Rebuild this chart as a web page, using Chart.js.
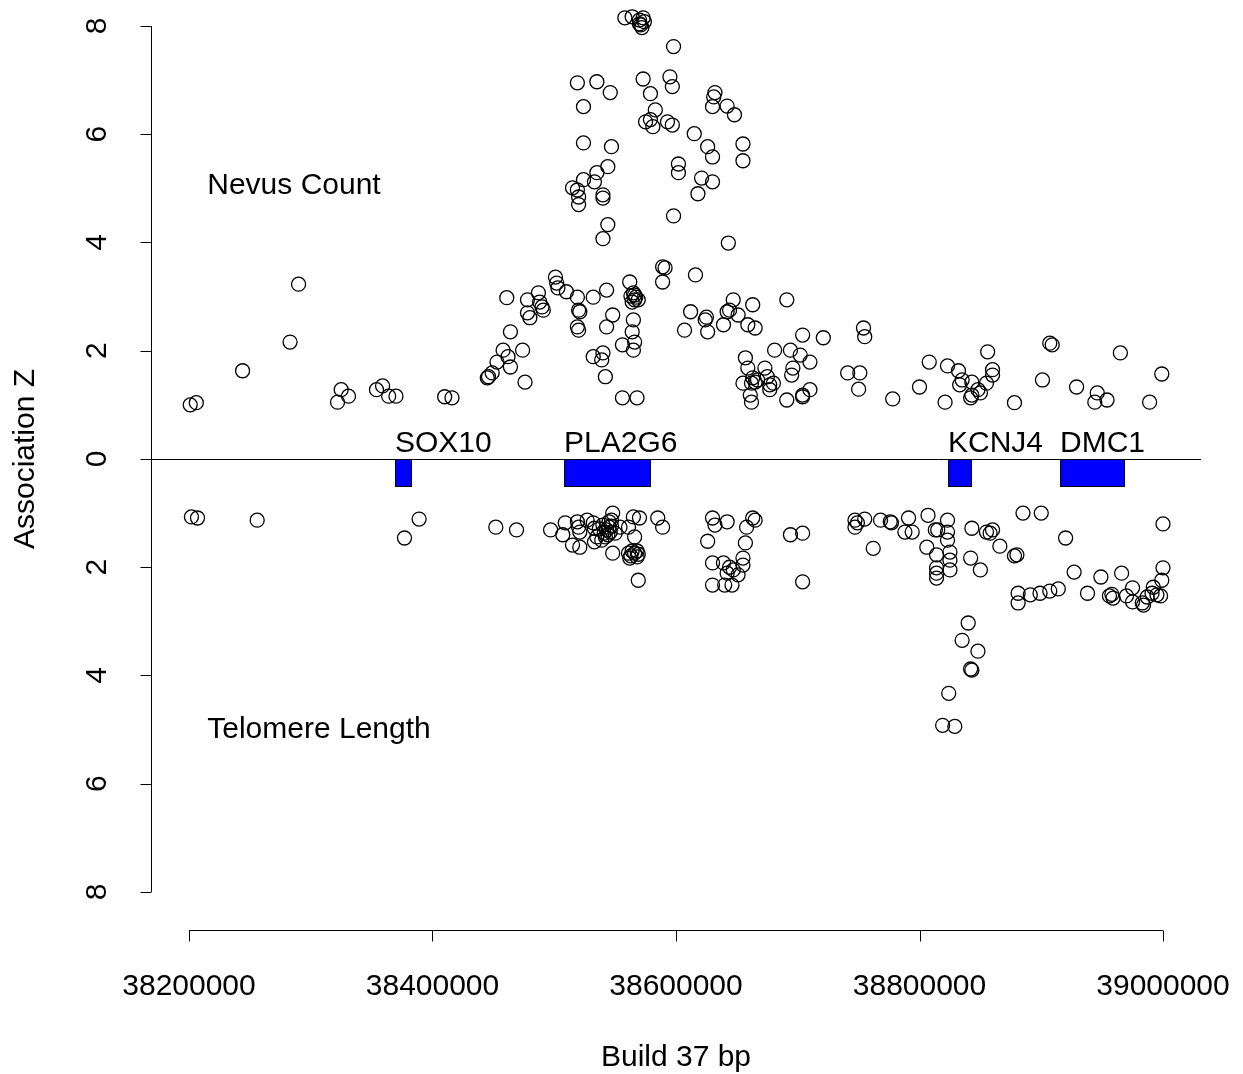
<!DOCTYPE html>
<html>
<head>
<meta charset="utf-8">
<title>Association Z - Nevus Count / Telomere Length</title>
<script src="https://cdn.jsdelivr.net/npm/chart.js@4.4.0/dist/chart.umd.min.js"></script>
<style>
  body { margin: 0; background: #fff; }
  canvas { display: block; }
</style>
</head>
<body>
<canvas id="assocChart" width="1243" height="1074"></canvas>
<script>
// SNP positions (build 37 bp) and association Z for nevus count (plotted above 0)
const nevusPos = [
  38201000, 38206000, 38244000, 38283000, 38290000, 38322000, 38325000, 38331000, 38354000, 38359000,
  38364000, 38370000, 38410000, 38416000,
  38461000, 38464000, 38458000, 38462000, 38453000, 38464000, 38449000, 38446000, 38445000, 38474000,
  38476000, 38478000, 38478000, 38480000, 38487000, 38488000, 38490000, 38491000, 38501000, 38502000,
  38503000, 38510000, 38519000, 38520000, 38521000, 38519000, 38520000, 38532000, 38543000, 38543000,
  38548000, 38540000, 38532000, 38539000, 38542000, 38556000, 38568000, 38562000, 38563000, 38566000,
  38567000, 38564000, 38566000, 38569000, 38565000, 38565000, 38564000, 38566000, 38565000, 38556000,
  38589000, 38591000, 38589000, 38616000, 38612000, 38607000, 38625000, 38626000, 38624000, 38639000,
  38642000, 38644000, 38647000, 38651000, 38659000, 38665000, 38663000, 38691000, 38704000, 38681000,
  38694000, 38702000, 38710000, 38696000, 38695000, 38657000, 38659000, 38663000, 38662000, 38665000,
  38655000, 38673000, 38675000, 38680000, 38677000, 38662000, 38661000, 38691000, 38704000, 38710000,
  38704000, 38667000, 38677000,
  38721000, 38754000, 38755000, 38741000, 38751000, 38750000, 38778000, 38800000, 38808000, 38823000,
  38832000, 38835000, 38833000, 38843000, 38843000, 38842000, 38848000, 38850000, 38855000, 38860000,
  38860000, 38856000, 38821000, 38878000, 38901000, 38907000, 38909000, 38929000, 38946000, 38944000,
  38954000, 38965000, 38989000, 38999000,
  38558000, 38564000, 38570000, 38573000, 38571000, 38574000, 38572000, 38570000, 38519000, 38535000,
  38546000, 38524000, 38524000, 38547000, 38544000, 38535000, 38533000, 38524000, 38515000, 38519000,
  38520000, 38520000, 38540000, 38540000, 38544000, 38540000, 38598000, 38573000, 38579000, 38595000,
  38597000, 38583000, 38575000, 38579000, 38581000, 38593000, 38597000, 38632000, 38630000, 38642000,
  38648000, 38615000, 38626000, 38630000, 38655000, 38655000, 38602000, 38602000, 38621000, 38630000,
  38618000, 38598000, 38643000, 38631000
];
const nevusZ = [
  1.00, 1.04, 1.63, 2.16, 3.23, 1.05, 1.28, 1.16, 1.28, 1.35,
  1.16, 1.16, 1.15, 1.13,
  2.98, 2.35, 2.01, 1.89, 1.79, 1.70, 1.59, 1.52, 1.50, 2.01,
  1.42, 2.94, 2.70, 2.61, 3.07, 2.90, 2.81, 2.75, 3.36, 3.25,
  3.16, 3.09, 2.99, 2.75, 2.72, 2.44, 2.38, 2.99, 3.12, 2.44,
  2.66, 1.96, 1.89, 1.83, 1.52, 1.13, 1.13, 3.27, 3.01, 2.94,
  2.99, 2.90, 3.03, 2.94, 3.07, 2.57, 2.35, 2.16, 2.01, 2.11,
  3.55, 3.53, 3.27, 3.40, 2.72, 2.38, 2.62, 2.35, 2.57, 2.48,
  2.72, 2.75, 2.94, 2.66, 2.48, 2.42, 2.85, 2.94, 2.29, 2.01,
  2.01, 1.92, 1.79, 1.68, 1.55, 1.87, 1.68, 1.50, 1.40, 1.42,
  1.40, 1.68, 1.52, 1.40, 1.28, 1.05, 1.18, 1.09, 1.15, 1.28,
  1.18, 1.46, 1.37,
  2.24, 2.42, 2.26, 1.59, 1.59, 1.29, 1.11, 1.33, 1.79, 1.72,
  1.63, 1.46, 1.37, 1.42, 1.18, 1.13, 1.28, 1.22, 1.40, 1.55,
  1.65, 1.98, 1.05, 1.04, 1.46, 2.14, 2.11, 1.33, 1.22, 1.05,
  1.09, 1.96, 1.05, 1.57,
  8.15, 8.17, 8.11, 8.15, 8.02, 8.08, 7.97, 8.04, 6.95, 6.97,
  6.77, 6.51, 5.84, 5.77, 5.40, 5.29, 5.12, 5.16, 5.01, 4.97,
  4.84, 4.70, 4.88, 4.82, 4.33, 4.07, 7.62, 7.02, 6.75, 7.06,
  6.88, 6.45, 6.23, 6.27, 6.14, 6.23, 6.17, 6.77, 6.51, 6.52,
  6.36, 6.01, 5.77, 5.58, 5.82, 5.51, 5.45, 5.29, 5.19, 5.12,
  4.90, 4.49, 3.99, 6.69
];

// SNP positions and association Z for telomere length (plotted below 0)
const telomerePos = [
  38202000, 38207000, 38256000, 38389000, 38377000, 38452000, 38469000, 38497000, 38509000, 38507000,
  38515000, 38521000, 38519000, 38520000, 38521000, 38527000, 38532000, 38533000, 38533000, 38539000,
  38535000, 38540000, 38543000, 38545000, 38546000, 38541000, 38544000, 38547000, 38537000, 38545000,
  38542000, 38548000, 38547000, 38550000, 38548000, 38554000, 38561000, 38565000, 38570000, 38566000,
  38561000, 38563000, 38566000, 38568000, 38569000, 38564000, 38562000, 38568000, 38569000, 38585000,
  38589000,
  38630000, 38632000, 38642000, 38663000, 38665000, 38658000, 38626000, 38657000, 38630000, 38639000,
  38655000, 38655000, 38644000, 38647000, 38642000, 38651000, 38630000, 38640000, 38646000, 38694000,
  38704000, 38704000,
  38747000, 38749000, 38747000, 38755000, 38768000, 38776000, 38777000, 38791000, 38788000, 38794000,
  38762000, 38807000, 38813000, 38815000, 38823000, 38823000, 38806000, 38814000, 38823000, 38825000,
  38825000, 38814000, 38814000, 38814000, 38825000, 38843000, 38855000, 38858000, 38860000, 38866000,
  38842000, 38850000, 38878000, 38880000, 38885000, 38900000, 38881000, 38881000, 38840000, 38835000,
  38848000, 38842000, 38843000, 38824000, 38819000, 38829000,
  38920000, 38927000, 38949000, 38966000, 39000000, 39000000, 38999000, 38891000, 38899000, 38907000,
  38914000, 38938000, 38956000, 38959000, 38958000, 38970000, 38975000, 38975000, 38983000, 38987000,
  38992000, 38991000, 38995000, 38998000, 38984000
];
const telomereZ = [
  1.07, 1.09, 1.13, 1.11, 1.46, 1.26, 1.31, 1.31, 1.18, 1.40,
  1.59, 1.63, 1.16, 1.26, 1.35, 1.13, 1.18, 1.28, 1.53, 1.50,
  1.44, 1.22, 1.31, 1.26, 1.35, 1.37, 1.40, 1.24, 1.29, 1.16,
  1.44, 1.00, 1.13, 1.37, 1.74, 1.26, 1.26, 1.07, 1.09, 1.44,
  1.74, 1.79, 1.74, 1.81, 1.76, 1.70, 1.83, 1.70, 2.24, 1.09,
  1.26,
  1.09, 1.22, 1.16, 1.09, 1.13, 1.26, 1.52, 1.55, 1.92, 1.92,
  1.83, 1.96, 2.00, 2.05, 2.11, 2.14, 2.33, 2.33, 2.33, 1.40,
  1.37, 2.27,
  1.13, 1.18, 1.26, 1.11, 1.13, 1.16, 1.18, 1.09, 1.35, 1.35,
  1.65, 1.04, 1.31, 1.31, 1.13, 1.35, 1.63, 1.77, 1.50, 1.72,
  1.87, 2.01, 2.11, 2.20, 2.05, 1.28, 1.35, 1.37, 1.31, 1.61,
  1.83, 2.05, 1.79, 1.77, 1.00, 1.00, 2.48, 2.66, 3.03, 3.35,
  3.55, 3.88, 3.90, 4.33, 4.92, 4.94,
  1.46, 2.09, 2.18, 2.11, 1.20, 2.01, 2.24, 2.51, 2.48, 2.44,
  2.40, 2.48, 2.53, 2.57, 2.50, 2.53, 2.38, 2.64, 2.66, 2.55,
  2.37, 2.48, 2.51, 2.53, 2.70
];

// genes drawn as boxes just under the zero line
const geneNames = ['SOX10', 'PLA2G6', 'KCNJ4', 'DMC1'];
const geneStart = [38369000, 38508000, 38823000, 38915000];
const geneEnd = [38382000, 38579000, 38842000, 38968000];

const xTicks = [38200000, 38400000, 38600000, 38800000, 39000000];
const yTicks = [-8, -6, -4, -2, 0, 2, 4, 6, 8];

const FONT = '30px "Liberation Sans", Arial, sans-serif';

const nevusPoints = nevusPos.map((x, i) => ({ x: x, y: nevusZ[i] }));
const telomerePoints = telomerePos.map((x, i) => ({ x: x, y: -telomereZ[i] }));

// R-style axes, zero line, gene boxes and labels
const rPlotDecor = {
  id: 'rPlotDecor',
  beforeDatasetsDraw(chart) {
    const { ctx, chartArea } = chart;
    const xs = chart.scales.x;
    const ys = chart.scales.y;
    const y0 = Math.round(ys.getPixelForValue(0));
    ctx.save();
    ctx.strokeStyle = '#000';
    ctx.lineWidth = 1;
    ctx.beginPath();
    ctx.moveTo(chartArea.left, y0 + 0.5);
    ctx.lineTo(chartArea.right, y0 + 0.5);
    ctx.stroke();

    const boxBottom = Math.round(ys.getPixelForValue(-0.5));
    ctx.font = FONT;
    geneNames.forEach((name, i) => {
      const x1 = Math.round(xs.getPixelForValue(geneStart[i]));
      const x2 = Math.round(xs.getPixelForValue(geneEnd[i]));
      ctx.fillStyle = '#0000ff';
      ctx.fillRect(x1 + 0.5, y0 + 0.5, x2 - x1, boxBottom - y0);
      ctx.strokeStyle = '#000';
      ctx.strokeRect(x1 + 0.5, y0 + 0.5, x2 - x1, boxBottom - y0);
      ctx.fillStyle = '#000';
      ctx.textAlign = 'left';
      ctx.textBaseline = 'alphabetic';
      ctx.fillText(name, x1, ys.getPixelForValue(0.13));
    });

    // panel titles
    ctx.fillText('Nevus Count', xs.getPixelForValue(38215000), ys.getPixelForValue(4.9));
    ctx.fillText('Telomere Length', xs.getPixelForValue(38215000), ys.getPixelForValue(-5.15));
    ctx.restore();
  },
  afterDraw(chart) {
    const { ctx, chartArea } = chart;
    const xs = chart.scales.x;
    const ys = chart.scales.y;
    ctx.save();
    ctx.strokeStyle = '#000';
    ctx.fillStyle = '#000';
    ctx.lineWidth = 1;
    ctx.font = FONT;

    // x axis
    const xa = chartArea.bottom + 0.5;
    const xFirst = xs.getPixelForValue(xTicks[0]);
    const xLast = xs.getPixelForValue(xTicks[xTicks.length - 1]);
    ctx.beginPath();
    ctx.moveTo(xFirst, xa);
    ctx.lineTo(xLast, xa);
    xTicks.forEach(v => {
      const px = Math.round(xs.getPixelForValue(v)) + 0.5;
      ctx.moveTo(px, xa);
      ctx.lineTo(px, xa + 11);
    });
    ctx.stroke();
    ctx.textAlign = 'center';
    ctx.textBaseline = 'alphabetic';
    xTicks.forEach(v => {
      ctx.fillText(String(v), xs.getPixelForValue(v), 995);
    });
    ctx.fillText('Build 37 bp', (chartArea.left + chartArea.right) / 2, 1066);

    // y axis
    const ya = chartArea.left + 0.5;
    ctx.beginPath();
    ctx.moveTo(ya, ys.getPixelForValue(yTicks[yTicks.length - 1]));
    ctx.lineTo(ya, ys.getPixelForValue(yTicks[0]));
    yTicks.forEach(v => {
      const py = Math.round(ys.getPixelForValue(v)) + 0.5;
      ctx.moveTo(ya, py);
      ctx.lineTo(ya - 11, py);
    });
    ctx.stroke();
    ctx.textAlign = 'center';
    ctx.textBaseline = 'middle';
    yTicks.forEach(v => {
      ctx.save();
      ctx.translate(98, ys.getPixelForValue(v));
      ctx.rotate(-Math.PI / 2);
      ctx.fillText(String(Math.abs(v)), 0, 0);
      ctx.restore();
    });
    ctx.save();
    ctx.translate(26, ys.getPixelForValue(0));
    ctx.rotate(-Math.PI / 2);
    ctx.fillText('Association Z', 0, 0);
    ctx.restore();
    ctx.restore();
  }
};

const ctxAssoc = document.getElementById('assocChart').getContext('2d');
const assocChart = new Chart(ctxAssoc, {
  type: 'scatter',
  data: {
    datasets: [{
      label: 'Nevus Count',
      data: nevusPoints,
      pointStyle: 'circle',
      radius: 7,
      borderColor: '#000',
      borderWidth: 1.3,
      backgroundColor: 'rgba(0,0,0,0)'
    }, {
      label: 'Telomere Length',
      data: telomerePoints,
      pointStyle: 'circle',
      radius: 7,
      borderColor: '#000',
      borderWidth: 1.3,
      backgroundColor: 'rgba(0,0,0,0)'
    }]
  },
  options: {
    responsive: false,
    animation: false,
    layout: { autoPadding: false, padding: { left: 151, right: 42, top: 0, bottom: 144 } },
    plugins: {
      legend: { display: false },
      tooltip: { enabled: false }
    },
    scales: {
      x: {
        type: 'linear',
        min: 38168789,
        max: 39031211,
        display: false
      },
      y: {
        type: 'linear',
        min: -8.702,
        max: 8.480,
        display: false
      }
    }
  },
  plugins: [rPlotDecor]
});
</script>
</body>
</html>
